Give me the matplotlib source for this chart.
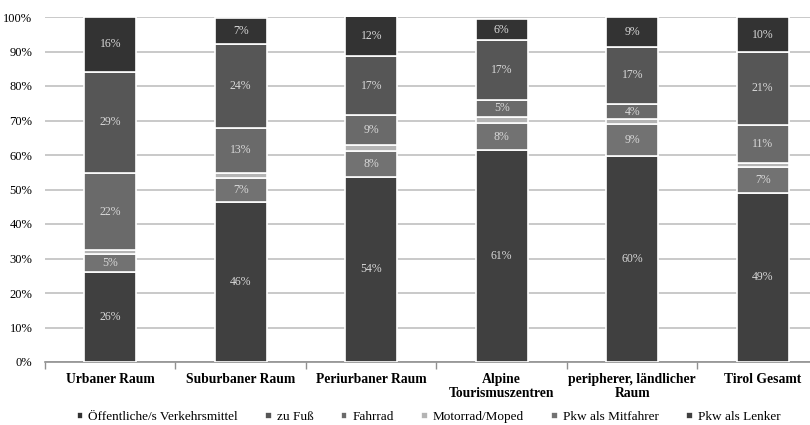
import matplotlib
matplotlib.use("Agg")
import matplotlib.pyplot as plt
import numpy as np

categories = ["Urbaner Raum", "Suburbaner Raum", "Periurbaner Raum",
              "Alpine\nTourismuszentren", "peripherer, ländlicher\nRaum", "Tirol Gesamt"]
# stacking order bottom -> top
pkw_lenker     = [26.2, 46.4, 53.7, 61.4, 59.8, 49.1]
pkw_mitfahrer  = [5.0, 7.0, 7.6, 7.8, 9.3, 7.4]
motorrad_moped = [1.2, 1.5, 1.5, 1.9, 1.3, 1.3]
fahrrad        = [22.4, 13.0, 8.7, 4.9, 4.4, 11.0]
zu_fuss        = [29.3, 24.4, 17.1, 17.4, 16.6, 21.1]
oeffentliche   = [15.9, 7.4, 11.6, 5.9, 8.6, 10.0]

series = [
    ("Pkw als Lenker", pkw_lenker, "#404040", True),
    ("Pkw als Mitfahrer", pkw_mitfahrer, "#727272", True),
    ("Motorrad/Moped", motorrad_moped, "#b4b4b4", False),
    ("Fahrrad", fahrrad, "#6a6a6a", True),
    ("zu Fuß", zu_fuss, "#565656", True),
    ("Öffentliche/s Verkehrsmittel", oeffentliche, "#333333", True),
]
legend_order = ["Öffentliche/s Verkehrsmittel", "zu Fuß", "Fahrrad",
                "Motorrad/Moped", "Pkw als Mitfahrer", "Pkw als Lenker"]

plt.rcParams['font.family'] = ['Liberation Serif', 'DejaVu Serif']

fig = plt.figure(figsize=(8.1, 4.25), dpi=100)
ax = fig.add_axes([45/810, 63/425, 783/810, 345/425])

x = np.arange(len(categories))
bottom = np.zeros(len(categories))
handles = {}
for name, vals, col, lab in series:
    vals = np.array(vals)
    b = ax.bar(x, vals, bottom=bottom, width=0.395, color=col,
               edgecolor="white", linewidth=1.2, label=name, zorder=3)
    handles[name] = b
    if lab:
        for xi, v, bt in zip(x, vals, bottom):
            ax.text(xi, bt + v/2, f"{int(round(v))}%", ha="center", va="center",
                    color="#d8d8d8", fontsize=8.5, zorder=4)
    bottom += vals

ax.set_xlim(-0.5, len(categories) - 0.5)
ax.set_ylim(0, 100)
ax.set_yticks(np.arange(0, 101, 10))
ax.set_yticklabels([f"{v}%" for v in range(0, 101, 10)], fontsize=9)
ax.yaxis.grid(True, color="#c0c0c0", linewidth=1.2, zorder=0)
ax.set_axisbelow(True)
ax.tick_params(axis="y", length=0, pad=9)

ax.set_xticks(x)
ax.set_xticklabels(categories, fontsize=9.8, fontweight="bold", linespacing=1.05)
ax.tick_params(axis="x", length=0, pad=8)
ax.set_xticks(np.arange(-0.5, len(categories), 1), minor=True)
ax.tick_params(axis="x", which="minor", length=5, color="#909090", width=1)

for s in ["top", "right", "left"]:
    ax.spines[s].set_visible(False)
ax.spines["bottom"].set_color("#909090")
ax.spines["bottom"].set_linewidth(1.2)

leg = fig.legend([handles[n] for n in legend_order], legend_order,
                 loc="center", bbox_to_anchor=(0.529, 8/425), ncol=6,
                 frameon=False, fontsize=9.5, handlelength=0.5, handleheight=0.5,
                 handletextpad=0.4, columnspacing=2.05)

fig.savefig("out.png", dpi=100)
